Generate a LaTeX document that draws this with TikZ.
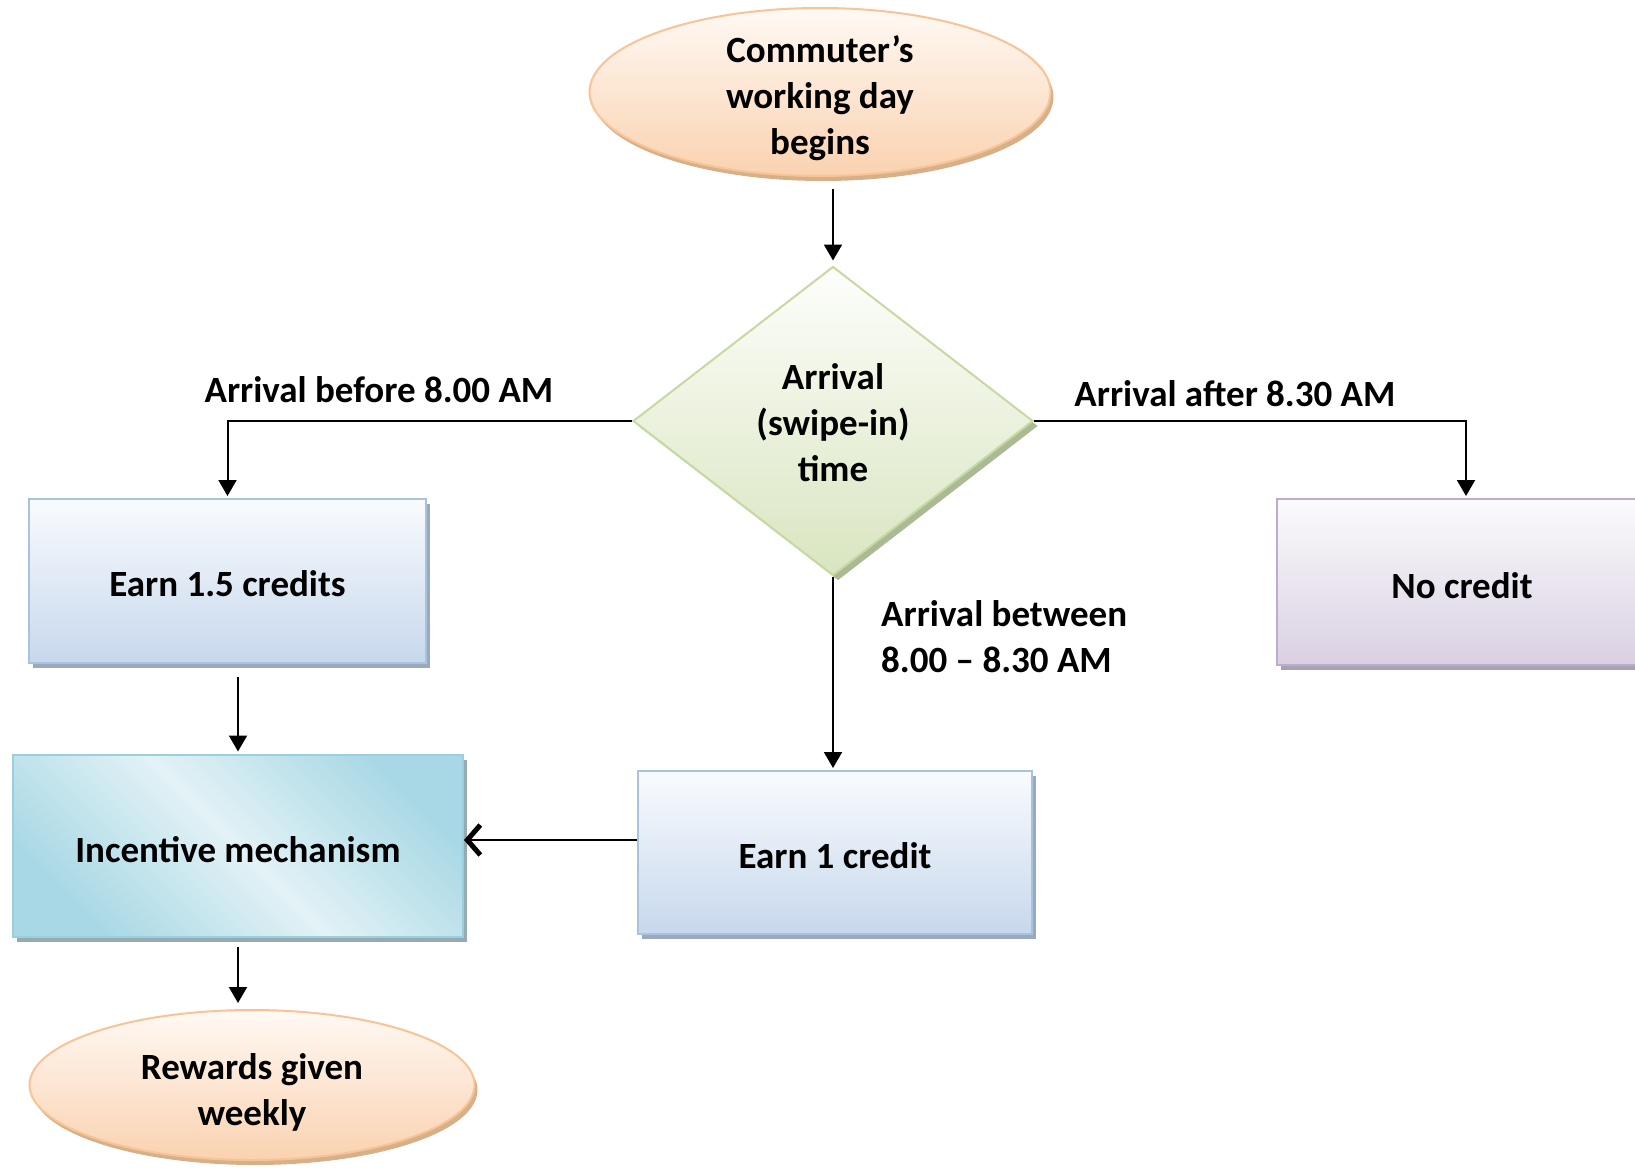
\documentclass[tikz,border=0pt]{standalone}
\usepackage{fontspec}
\setmainfont{Carlito}
\usetikzlibrary{shapes.geometric,arrows.meta,shadows}
\definecolor{peachT}{HTML}{FFF9F4}
\definecolor{peachBot}{HTML}{FAD2B0}
\definecolor{peachB}{HTML}{F9C396}
\definecolor{peachS}{HTML}{D6B088}
\definecolor{greenT}{HTML}{FDFEFB}
\definecolor{greenBot}{HTML}{D9E5C0}
\definecolor{greenB}{HTML}{C6D9A2}
\definecolor{greenS}{HTML}{ABBA95}
\definecolor{blueT}{HTML}{F9FBFE}
\definecolor{blueBot}{HTML}{C7D8EC}
\definecolor{blueB}{HTML}{A9C2DF}
\definecolor{blueS}{HTML}{9AA9BB}
\definecolor{purT}{HTML}{FBFAFC}
\definecolor{purBot}{HTML}{D9D0E2}
\definecolor{purB}{HTML}{BCACCF}
\definecolor{purS}{HTML}{A9A3B1}
\definecolor{aquaD}{HTML}{A8D8E5}
\definecolor{aquaL}{HTML}{E3F2F6}
\definecolor{aquaB}{HTML}{9AD0DE}
\definecolor{aquaS}{HTML}{95AAB2}
\tikzset{
  txt/.style={font=\fontsize{37}{46}\selectfont\bfseries, align=center, inner sep=0pt},
  base/.style={txt, draw, line width=2pt},
  peachnode/.style={base, ellipse, draw=peachB, top color=peachT, bottom color=peachBot,
     drop shadow={shadow xshift=3pt, shadow yshift=-5pt, fill=peachS, opacity=1}},
  decnode/.style={base, diamond, draw=greenB, top color=greenT, bottom color=greenBot,
     drop shadow={shadow xshift=5pt, shadow yshift=-5pt, fill=greenS, opacity=1}},
  bluebox/.style={base, rectangle, draw=blueB, top color=blueT, bottom color=blueBot,
     drop shadow={shadow xshift=4pt, shadow yshift=-5pt, fill=blueS, opacity=1}},
  purbox/.style={base, rectangle, draw=purB, top color=purT, bottom color=purBot,
     drop shadow={shadow xshift=4pt, shadow yshift=-5pt, fill=purS, opacity=1}},
  aquabox/.style={base, rectangle, draw=aquaB, top color=aquaD, bottom color=aquaD, middle color=aquaL, shading angle=-45,
     drop shadow={shadow xshift=4pt, shadow yshift=-5pt, fill=aquaS, opacity=1}},
  inner/.style={txt},
  arr/.style={line width=2pt, -{Triangle[length=16pt,width=18pt]}},
  openarr/.style={line width=2pt, -{Straight Barb[length=13pt,width=30pt,line width=5pt]}},
  lbl/.style={txt}
}
\begin{document}
\begin{tikzpicture}[x=1pt,y=-1pt]
\useasboundingbox (0,0) rectangle (1635,1167);
\clip (0,0) rectangle (1635,1167);

\node[peachnode, minimum width=461pt, minimum height=168pt,
  label={[inner, yshift=-6pt]center:Commuter’s\\working day\\begins}] (start) at (820,92) {};
\node[decnode, minimum width=400pt, minimum height=309pt,
  label={[inner, yshift=-2pt]center:Arrival\\(swipe-in)\\time}] (dec) at (833,421) {};
\node[bluebox, minimum width=397pt, minimum height=164pt,
  label={[inner, yshift=-3pt]center:Earn 1.5 credits}] (e15) at (227.5,581) {};
\node[purbox, minimum width=378pt, minimum height=166pt,
  label={[inner, yshift=-4pt, xshift=-4pt]center:No credit}] (nocr) at (1466,582) {};
\node[bluebox, minimum width=394pt, minimum height=163pt,
  label={[inner, yshift=-3pt]center:Earn 1 credit}] (e1) at (835,852.5) {};
\node[aquabox, minimum width=450pt, minimum height=182pt,
  label={[inner, yshift=-4pt]center:Incentive mechanism}] (inc) at (238,845.5) {};
\node[peachnode, minimum width=445pt, minimum height=150pt,
  label={[inner, yshift=-7pt]center:Rewards given\\weekly}] (rew) at (252,1085) {};

\node[lbl] (l1) at (379,390) {Arrival before 8.00 AM};
\node[lbl] (l2) at (1235,394) {Arrival after 8.30 AM};
\node[lbl, align=left, anchor=west] (l3) at (881,636.5) {Arrival between\\8.00 – 8.30 AM};

\draw[arr, shorten <=12pt, shorten >=5pt] (start.south -| dec.north) -- (dec.north);
\draw[arr, shorten >=2pt] (dec.west) -| (e15.north);
\draw[arr, shorten >=2pt] (dec.east) -| (nocr.north);
\draw[arr, shorten >=2pt] (dec.south) -- (dec.south |- e1.north);
\path ([yshift=12.5pt]e1.west) coordinate (a1);
\draw[openarr] (a1) -- (a1 -| inc.east);
\draw[arr, shorten <=13pt, shorten >=2pt] (e15.south -| inc.north) -- (inc.north);
\draw[arr, shorten <=9pt, shorten >=6pt] (inc.south) -- (inc.south |- rew.north);
\end{tikzpicture}
\end{document}
